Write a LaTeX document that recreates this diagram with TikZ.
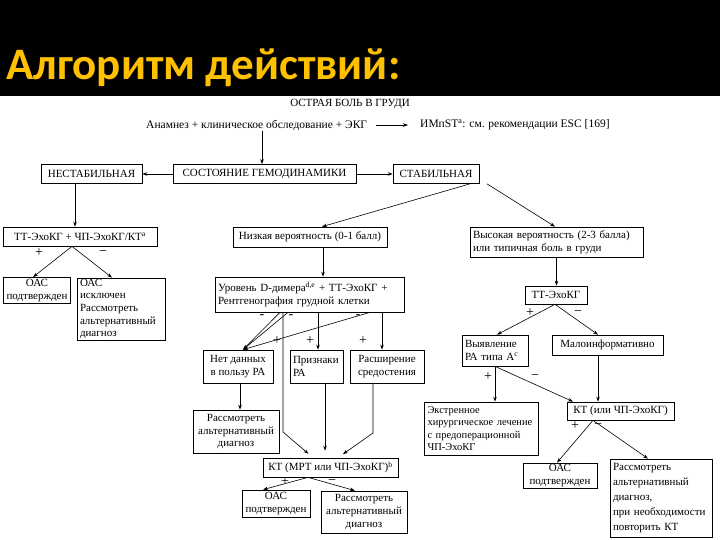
\documentclass[tikz,border=0pt]{standalone}
\usepackage{fontspec}
\setmainfont{Liberation Serif}
\newfontfamily\titlefont{Carlito}
\usetikzlibrary{arrows.meta,calc}
\definecolor{gold}{HTML}{FFC000}
\begin{document}
\begin{tikzpicture}[x=1pt,y=-1pt,
  box/.style={draw, line width=0.7pt, inner xsep=3pt, inner ysep=1pt, font=\fontsize{11}{12.6}\selectfont, align=center},
  lbox/.style={box, align=left},
  txt/.style={inner sep=0pt, font=\fontsize{11.5}{13}\selectfont},
  arr/.style={-{Stealth[length=5pt,width=3.5pt]}, line width=0.6pt},
  ln/.style={line width=0.6pt},
  pm/.style={font=\fontsize{14}{14}\selectfont, inner sep=0pt}
]
\path[use as bounding box] (0,0) rectangle (720,540);
\fill[black] (0,0) rectangle (720,96);
\node[anchor=base west, text=gold, font=\titlefont\bfseries\fontsize{45}{50}\selectfont, inner sep=0pt] (title) at (6,80) {Алгоритм действий:};

% top texts
\node[txt, font=\fontsize{11}{12}\selectfont] (top) at (350,104) {ОСТРАЯ БОЛЬ В ГРУДИ};
\node[txt, anchor=west] (anam) at (146,125) {Анамнез + клиническое обследование + ЭКГ};
\node[txt, anchor=west] (imp) at (420,125) {ИМпST\textsuperscript{a}: см. рекомендации ESC [169]};
\coordinate (a0) at (262,131);

% row 1
\node[box, minimum width=101, minimum height=19] (nest) at (91.5,174) {НЕСТАБИЛЬНАЯ};
\node[box, minimum width=183, minimum height=19] (sost) at (264.5,174) {СОСТОЯНИЕ ГЕМОДИНАМИКИ};
\node[box, minimum width=86, minimum height=19] (stab) at (436,174) {СТАБИЛЬНАЯ};

% row 2
\node[box, minimum width=154, minimum height=19] (tt1) at (80,236.5) {ТТ-ЭхоКГ + ЧП-ЭхоКГ/КТ\textsuperscript{a}};
\node[box, minimum width=154, minimum height=20] (low) at (310,237) {Низкая вероятность (0-1 балл)};
\node[lbox, text width=167, minimum height=30] (high) at (556.5,242) {Высокая вероятность (2-3 балла)\\или типичная боль в груди};

% left branch
\node[box, minimum width=66, minimum height=26] (oas1) at (37,290.5) {ОАС\\подтвержден};
\node[lbox, text width=82, minimum height=62] (oasex) at (121,309) {ОАС\\исключен\\Рассмотреть\\альтернативный\\диагноз};

% middle branch
\node[lbox, text width=183, minimum height=35] (dd) at (309.5,294.5) {Уровень D-димера\textsuperscript{d,e} + ТТ-ЭхоКГ +\\Рентгенография грудной клетки};
\node[box, minimum width=70, minimum height=33] (nodata) at (238,366.5) {Нет данных\\в пользу РА};
\node[lbox, text width=47, minimum height=33] (signs) at (316.5,366.5) {Признаки\\РА};
\node[box, minimum width=74, minimum height=33] (med) at (387,366.5) {Расширение\\средостения};
\node[box, minimum width=86, minimum height=43] (alt1) at (236,431.5) {Рассмотреть\\альтернативный\\диагноз};
\node[box, minimum width=135, minimum height=19] (ct1) at (330.5,467.5) {КТ (МРТ или ЧП-ЭхоКГ)\textsuperscript{b}};
\node[box, minimum width=68, minimum height=27] (oas2) at (276,503.5) {ОАС\\подтвержден};
\node[box, minimum width=86, minimum height=42] (alt2) at (364,512) {Рассмотреть\\альтернативный\\диагноз};

% right branch
\node[box, minimum width=62, minimum height=18] (tte) at (556,295) {ТТ-ЭхоКГ};
\node[lbox, text width=60, minimum height=31] (detect) at (495,350.5) {Выявление\\РА типа A\textsuperscript{c}};
\node[box, minimum width=111, minimum height=20] (malo) at (607.5,345) {Малоинформативно};
\node[lbox, text width=108, minimum height=53, font=\fontsize{10.5}{12.6}\selectfont] (emerg) at (481.5,428.5) {Экстренное\\хирургическое лечение\\с предоперационной\\ЧП-ЭхоКГ};
\node[box, minimum width=107, minimum height=18] (ct2) at (620.5,411) {КТ (или ЧП-ЭхоКГ)};
\node[box, minimum width=74, minimum height=25] (oas3) at (560,475.5) {ОАС\\подтвержден};
\node[lbox, text width=96, minimum height=78, font=\fontsize{11}{15}\selectfont] (alt3) at (661,498) {Рассмотреть\\альтернативный\\диагноз,\\при необходимости\\повторить КТ};

% connectors top
\draw[arr] (a0) -- (a0 |- sost.north);
\draw[arr, shorten <=9pt, shorten >=12pt] (anam.east) -- (imp.west);
\draw[arr] (sost.west) -- (nest.east);
\draw[arr] (sost.east) -- (stab.west);
\draw[arr] ([xshift=-16.5pt]nest.south) -- ([xshift=-16.5pt]nest.south |- tt1.north);
\draw[arr] ([xshift=34pt]stab.south) -- ([xshift=12pt]low.north);
\draw[arr] ([xshift=51pt]stab.south) -- ([xshift=-1.5pt]high.north);

% left split
\coordinate (s1) at ([xshift=-8pt]tt1.south);
\draw[arr] (s1) -- ([xshift=-4pt]oas1.north);
\draw[arr] (s1) -- ([xshift=-9pt]oasex.north);
\node[pm] at (39,253) {+};
\node[pm] at (103,253) {−};

% middle
\draw[arr] ([xshift=13pt]low.south) -- ([xshift=13pt]low.south |- dd.north);
\draw[arr] ([xshift=-29.5pt]dd.south) -- ([xshift=5pt]nodata.north);
\draw[arr] ([xshift=-21.5pt]dd.south) -- ([xshift=5pt]nodata.north);
\draw[arr] ([xshift=60.5pt]dd.south) -- ([xshift=5pt]nodata.north);
\coordinate (k1) at (283,432);
\draw[arr, shorten >=6pt] ([xshift=-26.5pt]dd.south) -- (k1) -- ([xshift=-17.5pt]ct1.north);
\draw[arr] ([xshift=8.5pt]dd.south) -- ([xshift=8.5pt]dd.south |- signs.north);
\draw[arr] ([xshift=72.5pt]dd.south) -- ([xshift=72.5pt]dd.south |- med.north);
\node[pm] at (262,317) {-};
\node[pm] at (291,317) {-};
\node[pm] at (358,317) {-};
\node[pm] at (277,341) {+};
\node[pm] at (310,341) {+};
\node[pm] at (363,341) {+};
\draw[arr] ([xshift=2pt]nodata.south) -- ([xshift=2pt]nodata.south |- alt1.north);
\draw[arr, shorten >=7pt] ([xshift=8.5pt]signs.south) -- ([xshift=8.5pt]signs.south |- ct1.north);
\coordinate (k2) at (373,433);
\draw[arr, shorten >=6pt] ([xshift=-14pt]med.south) -- (k2) -- ([xshift=7.5pt]ct1.north);
\coordinate (s2) at ([xshift=-22.5pt]ct1.south);
\draw[arr] (s2) -- ([xshift=-13pt]oas2.north);
\draw[arr] (s2) -- ([xshift=-9pt]alt2.north);
\node[pm] at (285,482) {+};
\node[pm] at (332,482) {−};

% right
\draw[arr] (high.south) -- (high.south |- tte.north);
\coordinate (s3) at ([xshift=-1pt]tte.south);
\draw[arr] (s3) -- ([xshift=2pt]detect.north);
\draw[arr] (s3) -- ([xshift=-9.5pt]malo.north);
\node[pm] at (530,313) {+};
\node[pm] at (578,313) {−};
\draw[arr] (detect.south) -- (detect.south |- emerg.north);
\draw[arr] (detect.south) -- ([xshift=-47.5pt]ct2.north);
\node[pm] at (488,377) {+};
\node[pm] at (535,377) {−};
\draw[arr] ([xshift=-9.5pt]malo.south) -- ([xshift=-9.5pt]malo.south |- ct2.north);
\coordinate (s4) at ([xshift=-27.5pt]ct2.south);
\draw[arr] (s4) -- ([xshift=-3pt]oas3.north);
\draw[arr] (s4) -- ([xshift=-13pt]alt3.north);
\node[pm] at (575,426) {+};
\node[pm] at (598,426) {−};
\end{tikzpicture}
\end{document}
